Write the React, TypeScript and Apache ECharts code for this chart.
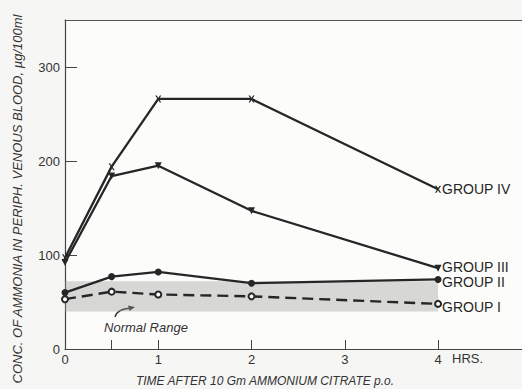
import React, { useEffect, useRef } from "react";
import * as echarts from "echarts";

const hours = [0, 0.5, 1, 2, 4];
const groupIV = [97, 194, 266, 266, 170];
const groupIII = [92, 184, 195, 147, 86];
const groupII = [60, 77, 82, 70, 74];
const groupI = [53, 61, 58, 56, 48];
const normalRange = [40, 72];
const normalRangeHours = [0, 4];
const yTicks = [0, 100, 200, 300];
const xLabels = [0, 1, 2, 3, 4];
const xTicks = [0, 0.5, 1, 2, 3, 4];
const groupNames = ["GROUP IV", "GROUP III", "GROUP II", "GROUP I"];

const FONT = "'Liberation Sans', Arial, sans-serif";
const INK = "#262626";

const xSymbol =
  "path://M0,0 L2.4,0 L5,3.6 L7.6,0 L10,0 L6.3,5 L10,10 L7.6,10 L5,6.4 L2.4,10 L0,10 L3.7,5 Z";

export default function App() {
  const ref = useRef<HTMLDivElement>(null);

  useEffect(() => {
    if (!ref.current) return;
    const chart = echarts.init(ref.current, undefined, { renderer: "svg" });

    const toData = (vals: number[]) => hours.map((h, i) => [h, vals[i]]);

    const base = (name: string, vals: number[], extra: any, labelOffset: number[]) => ({
      type: "line",
      name,
      data: toData(vals),
      xAxisIndex: 0,
      yAxisIndex: 0,
      lineStyle: { color: INK, width: 2.3 },
      itemStyle: { color: INK },
      endLabel: {
        show: true,
        formatter: name,
        fontFamily: FONT,
        fontSize: 14,
        color: INK,
        distance: 4,
        offset: labelOffset,
      },
      z: 3,
      ...extra,
    });

    const option: any = {
      animation: false,
      backgroundColor: "#f6f6f4",
      grid: {
        left: 65,
        right: 0,
        top: 20,
        bottom: 40,
        show: true,
        backgroundColor: "#fcfcfb",
        borderWidth: 0,
      },
      xAxis: [
        {
          type: "value",
          min: 0,
          max: 4.9,
          position: "bottom",
          axisLine: { show: true, lineStyle: { color: "#444", width: 1.2 } },
          axisTick: {
            show: true,
            inside: true,
            length: 9,
            customValues: xTicks,
            lineStyle: { color: "#444", width: 1 },
          },
          axisLabel: {
            customValues: xLabels,
            margin: 4,
            fontSize: 13,
            fontFamily: FONT,
            color: "#333",
          },
          splitLine: { show: false },
        },
        {
          type: "value",
          min: 0,
          max: 4.9,
          position: "top",
          axisLine: { show: true, lineStyle: { color: "#555", width: 1.2 } },
          axisTick: { show: false },
          axisLabel: { show: false },
          splitLine: { show: false },
        },
      ],
      yAxis: {
        type: "value",
        min: 0,
        max: 350,
        axisLine: { show: true, lineStyle: { color: "#444", width: 1.2 } },
        axisTick: {
          show: true,
          inside: true,
          length: 12,
          customValues: yTicks,
          lineStyle: { color: "#444", width: 1 },
        },
        axisLabel: {
          customValues: yTicks,
          margin: 5,
          fontSize: 13,
          fontFamily: FONT,
          color: "#333",
        },
        splitLine: { show: false },
      },
      series: [
        base(groupNames[0], groupIV, { symbol: xSymbol, symbolSize: [6, 7] }, [0, 0]),
        base(
          groupNames[1],
          groupIII,
          { symbol: "triangle", symbolRotate: 180, symbolSize: [7, 7] },
          [0, -1]
        ),
        base(groupNames[2], groupII, { symbol: "circle", symbolSize: 7 }, [0, 3]),
        base(
          groupNames[3],
          groupI,
          {
            symbol: "emptyCircle",
            symbolSize: 6,
            showAllSymbol: true,
            itemStyle: { color: INK, borderWidth: 1.6 },
            lineStyle: { color: INK, width: 2.4, type: [11, 6] },
            markArea: {
              silent: true,
              z: 1,
              itemStyle: { color: "rgba(150,150,150,0.36)" },
              data: [
                [
                  { coord: [normalRangeHours[0], normalRange[0]] },
                  { coord: [normalRangeHours[1], normalRange[1]] },
                ],
              ],
            },
          },
          [0, 3]
        ),
      ],
      graphic: [
        {
          type: "text",
          x: 17,
          y: 199,
          rotation: Math.PI / 2,
          style: {
            text: "CONC. OF AMMONIA IN PERIPH. VENOUS BLOOD, µg/100ml",
            fontFamily: FONT,
            fontStyle: "italic",
            fontSize: 13,
            fill: "#333",
            align: "center",
            verticalAlign: "middle",
          },
        },
        {
          type: "text",
          x: 265,
          y: 381,
          style: {
            text: "TIME AFTER 10 Gm AMMONIUM CITRATE p.o.",
            fontFamily: FONT,
            fontStyle: "italic",
            fontSize: 12,
            fill: "#333",
            align: "center",
            verticalAlign: "middle",
          },
        },
        {
          type: "text",
          x: 452,
          y: 358,
          style: {
            text: "HRS.",
            fontFamily: FONT,
            fontSize: 13,
            fill: "#333",
            align: "left",
            verticalAlign: "middle",
          },
        },
        {
          type: "text",
          x: 146,
          y: 327,
          style: {
            text: "Normal Range",
            fontFamily: FONT,
            fontStyle: "italic",
            fontSize: 13,
            fill: "#333",
            align: "center",
            verticalAlign: "middle",
          },
        },
        {
          type: "bezierCurve",
          shape: { x1: 115, y1: 317, x2: 131, y2: 308, cpx1: 117, cpy1: 309 },
          style: { stroke: "#333", lineWidth: 1.4, fill: null },
        },
        {
          type: "polygon",
          shape: { points: [[135, 307], [128, 305.5], [129.5, 311]] },
          style: { fill: "#333" },
        },
      ],
    };

    chart.setOption(option);
    return () => chart.dispose();
  }, []);

  return (
    <div
      ref={ref}
      style={{ position: "fixed", left: 0, top: 0, width: 522, height: 389 }}
    />
  );
}
